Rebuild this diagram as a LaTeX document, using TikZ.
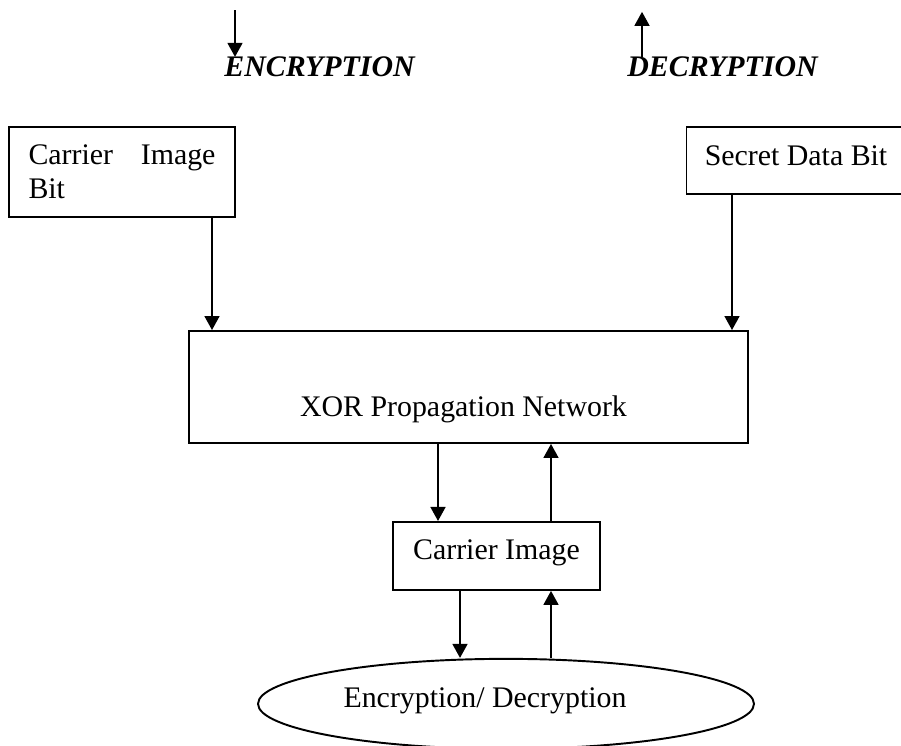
\documentclass[tikz,border=0pt]{standalone}
\usepackage{fontspec}
\setmainfont{Liberation Serif}
\usepackage{tikz}
\usetikzlibrary{arrows.meta, positioning, shapes.geometric}

\begin{document}
\begin{tikzpicture}[
  font=\fontsize{17}{19.4}\selectfont,
  block/.style={draw, line width=1.1pt, inner sep=0pt},
  mode/.style={font=\fontsize{17}{19.4}\selectfont\bfseries\itshape, inner sep=0pt},
  arr/.style={-{Triangle[length=0.28cm, width=0.3cm]}, line width=0.9pt}
]
\useasboundingbox (0,0) rectangle (18.02,14.9);

% Direction key
\node[mode, anchor=base west] (enc) at (4.48,13.36) {ENCRYPTION};
\node[mode, anchor=base west] (dec) at (12.54,13.36) {DECRYPTION};
\coordinate (encfrom) at ([xshift=0.22cm, yshift=0.93cm]enc.north west);
\coordinate (decto) at ([xshift=0.3cm, yshift=0.9cm]dec.north west);
\draw[arr] (encfrom) -- ([xshift=0.22cm]enc.north west);
\draw[arr] ([xshift=0.3cm]dec.north west) -- (decto);

% Inputs
\node[block, minimum width=4.52cm, minimum height=1.8cm, text width=3.74cm,
      align=left] (cib) at (2.44,11.46) {Carrier\hfill Image\\Bit};
\node[block, minimum width=4.38cm, minimum height=1.34cm, text depth=0.18cm]
      (sdb) at (15.92,11.69) {Secret Data Bit};

% XOR stage
\node[block, minimum width=11.18cm, minimum height=2.24cm,
      text height=1.72cm, text depth=0.52cm] (xor) at (9.37,7.16)
      {\hspace*{-0.2cm}XOR Propagation Network};

\draw[arr] ([xshift=1.8cm]cib.south) -- ([xshift=1.8cm]cib.south |- xor.north);
\draw[arr] ([xshift=-1.28cm]sdb.south) -- ([xshift=-1.28cm]sdb.south |- xor.north);

% Carrier image
\node[block, minimum width=4.14cm, minimum height=1.36cm, text depth=0.25cm,
      below=1.54cm of xor, xshift=0.56cm] (ci) {Carrier Image};

\draw[arr] ([xshift=-1.17cm]ci.north |- xor.south) -- ([xshift=-1.17cm]ci.north);
\draw[arr] ([xshift=1.09cm]ci.north) -- ([xshift=1.09cm]ci.north |- xor.south);

% Encryption / decryption step (text sits left of centre)
\node[block, ellipse, minimum width=9.92cm, minimum height=1.8cm, text depth=0.25cm,
      below=1.34cm of ci, xshift=0.19cm] (ed) {\hspace*{-0.84cm}Encryption/ Decryption};

\draw[arr] ([xshift=-0.73cm]ci.south) -- ([xshift=-0.73cm]ci.south |- ed.north);
\draw[arr] ([xshift=1.09cm]ci.south |- ed.north) -- ([xshift=1.09cm]ci.south);
\end{tikzpicture}
\end{document}
